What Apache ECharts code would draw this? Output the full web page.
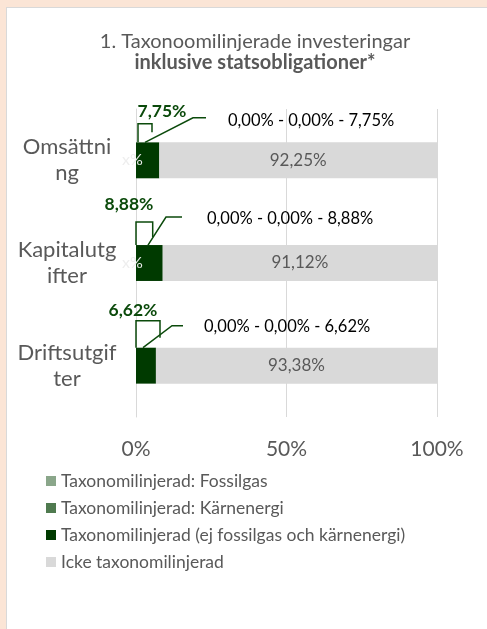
<!DOCTYPE html>
<html>
<head>
<meta charset="utf-8">
<script src="https://cdn.jsdelivr.net/npm/echarts@6/dist/echarts.min.js"></script>
<style>
  html, body { margin: 0; padding: 0; background: #fbe5d6; }
  #panel { position: absolute; left: 6px; top: 7px; width: 481px; height: 622px; background: #fff; border-left: 1px solid #d9d9d9; border-top: 1px solid #d9d9d9; }
  #chart { position: absolute; left: 0; top: 0; width: 487px; height: 629px; }
</style>
</head>
<body>
<div id="panel"></div>
<div id="chart"></div>
<script>
// data
const categories = ['Omsättning', 'Kapitalutgifter', 'Driftsutgifter']
const fossilgas = [0, 0, 0]
const karnenergi = [0, 0, 0]
const taxAligned = [7.75, 8.88, 6.62]
const notAligned = [92.25, 91.12, 93.38]
const xTicks = { min: 0, max: 100, interval: 50 }

const seriesNames = [
  'Taxonomilinjerad: Fossilgas',
  'Taxonomilinjerad: Kärnenergi',
  'Taxonomilinjerad (ej fossilgas och kärnenergi)',
  'Icke taxonomilinjerad'
]
const colors = ['#8aa68a', '#4f7a4f', '#003a00', '#d9d9d9']

// layout of the excel-style callouts (pixel offsets from bar top-left)
const callouts = [
  { value: [26, -31], bracket: [2, 16, -18.5, -10], line: [[9, 0], [57, -24.5], [70, -24.5]], text: [92, -22] },
  { value: [-7, -41], bracket: [0, 16.7, -23, -8], line: [[12, 0], [30, -28], [46, -28]], text: [71, -26] },
  { value: [-3, -37], bracket: [0, 24, -27, -10], line: [[7, 0], [36, -22], [47, -22]], text: [68, -21] }
]
const labelBreaks = [8, 10, 11]
const showX = [true, true, false]

const FONT = 'Lato'
const grey = '#595959'
const green = '#0b4a0b'
const fmt = v => v.toFixed(2).replace('.', ',') + '%'

const chart = echarts.init(document.getElementById('chart'))

function renderCallout(params, api) {
  const i = api.value(1)
  const base = api.coord([0, i])
  const barH = api.size([0, 1])[1] * 0.35
  const x0 = base[0]
  const y0 = base[1] - barH / 2
  const c = callouts[i]
  const b = c.bracket
  const total = fossilgas[i] + karnenergi[i] + taxAligned[i]
  return {
    type: 'group',
    children: [
      {
        type: 'text',
        style: {
          x: x0 + c.value[0], y: y0 + c.value[1], text: fmt(total),
          fill: green, fontFamily: FONT, fontSize: 17.5, fontWeight: 'bold',
          align: 'center', verticalAlign: 'middle'
        }
      },
      {
        type: 'polyline',
        shape: { points: [[x0 + b[0], y0], [x0 + b[0], y0 + b[2]], [x0 + b[1], y0 + b[2]], [x0 + b[1], y0 + b[3]]] },
        style: { stroke: green, lineWidth: 1.5, fill: null }
      },
      {
        type: 'polyline',
        shape: { points: c.line.map(p => [x0 + p[0], y0 + p[1]]) },
        style: { stroke: green, lineWidth: 1.5, fill: null }
      },
      {
        type: 'text',
        style: {
          x: x0 + c.text[0], y: y0 + c.text[1],
          text: fmt(fossilgas[i]) + ' - ' + fmt(karnenergi[i]) + ' - ' + fmt(taxAligned[i]),
          fill: '#000', fontFamily: FONT, fontSize: 16.5,
          align: 'left', verticalAlign: 'middle'
        }
      }
    ]
  }
}

const barBase = {
  type: 'bar',
  stack: 'total',
  barCategoryGap: '65%'
}

chart.setOption({
  animation: false,
  textStyle: { fontFamily: FONT },
  title: {
    text: '1. Taxonoomilinjerade investeringar',
    subtext: 'inklusive statsobligationer*',
    left: 250,
    top: 27,
    textAlign: 'center',
    itemGap: 1,
    textStyle: { color: grey, fontSize: 20, fontWeight: 'normal', fontFamily: FONT },
    subtextStyle: { color: grey, fontSize: 20, fontWeight: 'bold', fontFamily: FONT }
  },
  legend: {
    data: seriesNames,
    orient: 'vertical',
    left: 41,
    top: 467,
    icon: 'rect',
    itemWidth: 10,
    itemHeight: 10,
    itemGap: 9,
    textStyle: { color: grey, fontSize: 17.5, lineHeight: 16, fontFamily: FONT }
  },
  grid: { left: 136, right: 50, top: 109, bottom: 212 },
  xAxis: {
    type: 'value',
    min: xTicks.min,
    max: xTicks.max,
    interval: xTicks.interval,
    axisLine: { show: false },
    axisTick: { show: false },
    splitLine: { lineStyle: { color: '#d9d9d9', width: 1 } },
    axisLabel: { formatter: '{value}%', color: grey, fontSize: 21, margin: 22, fontFamily: FONT }
  },
  yAxis: {
    type: 'category',
    data: categories,
    inverse: true,
    axisLine: { lineStyle: { color: '#d9d9d9' } },
    axisTick: { show: false },
    axisLabel: {
      color: grey,
      fontSize: 22,
      lineHeight: 26,
      align: 'center',
      margin: 69,
      fontFamily: FONT,
      formatter: (v, i) => v.slice(0, labelBreaks[i]) + '\n' + v.slice(labelBreaks[i])
    }
  },
  series: [
    Object.assign({}, barBase, { name: seriesNames[0], data: fossilgas, itemStyle: { color: colors[0] } }),
    Object.assign({}, barBase, { name: seriesNames[1], data: karnenergi, itemStyle: { color: colors[1] } }),
    Object.assign({}, barBase, {
      name: seriesNames[2],
      data: taxAligned.map((v, i) => ({ value: v, label: { show: showX[i] } })),
      itemStyle: { color: colors[2] },
      label: {
        position: 'insideLeft',
        offset: [-19, 0],
        formatter: 'x%',
        color: '#eeeeee',
        fontSize: 16,
        fontFamily: FONT
      }
    }),
    Object.assign({}, barBase, {
      name: seriesNames[3],
      data: notAligned,
      itemStyle: { color: colors[3] },
      label: {
        show: true,
        position: 'inside',
        color: grey,
        fontSize: 17,
        fontFamily: FONT,
        formatter: p => fmt(p.value)
      }
    }),
    {
      type: 'custom',
      name: 'callouts',
      z: 5,
      clip: false,
      silent: true,
      renderItem: renderCallout,
      encode: { x: 0, y: 1 },
      data: categories.map((c, i) => [0, i])
    }
  ]
})
</script>
</body>
</html>
